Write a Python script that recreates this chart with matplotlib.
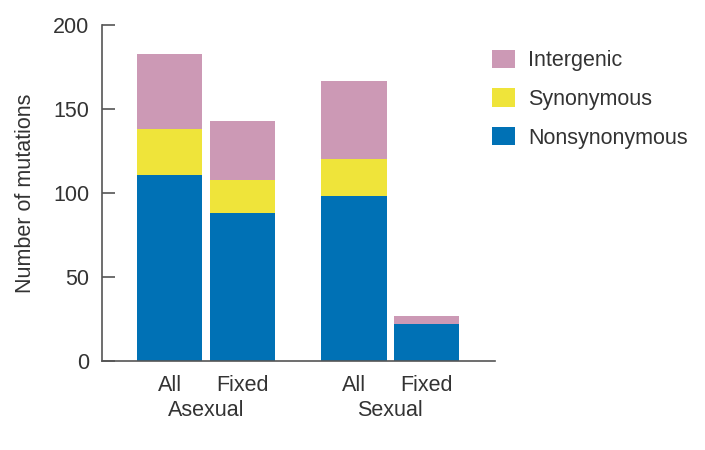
import matplotlib
matplotlib.use("Agg")
import matplotlib.pyplot as plt
import matplotlib.transforms as mtransforms

plt.rcParams['font.family'] = ['Liberation Sans', 'DejaVu Sans']

bar_labels = ["All", "Fixed", "All", "Fixed"]
groups = ["Asexual", "Sexual"]
nonsyn = [111, 88, 98, 22]
syn = [27, 20, 22, 0]
intergenic = [45, 35, 47, 5]

col_pink = "#cc99b5"
col_yellow = "#efe43a"
col_blue = "#0071b5"
txt = "#333333"
fs = 15.5

x = [0, 1, 2.54, 3.54]

fig = plt.figure(figsize=(7.05, 4.5), dpi=100)
ax = fig.add_axes([0.144, 0.198, 0.558, 0.746])

b1 = ax.bar(x, nonsyn, width=0.9, color=col_blue, label="Nonsynonymous")
bottom2 = nonsyn
b2 = ax.bar(x, syn, width=0.9, bottom=bottom2, color=col_yellow, label="Synonymous")
bottom3 = [a + b for a, b in zip(nonsyn, syn)]
b3 = ax.bar(x, intergenic, width=0.9, bottom=bottom3, color=col_pink, label="Intergenic")

ax.set_ylim(0, 200)
ax.set_xlim(-0.94, 4.48)
ax.set_yticks([0, 50, 100, 150, 200])
ax.set_xticks(x)
ax.set_xticklabels(bar_labels)
ax.tick_params(axis='y', direction='in', length=9.5, width=1.2, color="#555555",
               labelsize=fs, labelcolor=txt, pad=9)
ax.tick_params(axis='x', length=0, labelsize=fs, labelcolor=txt, pad=10)

for s in ["top", "right"]:
    ax.spines[s].set_visible(False)
for s in ["left", "bottom"]:
    ax.spines[s].set_color("#555555")
    ax.spines[s].set_linewidth(1.2)

ax.set_ylabel("Number of mutations", fontsize=fs, color=txt, labelpad=12)

trans = mtransforms.blended_transform_factory(ax.transData, fig.transFigure)
ax.text((x[0] + x[1]) / 2, 1 - 411 / 450, groups[0], transform=trans,
        ha='center', va='center', fontsize=fs, color=txt)
ax.text((x[2] + x[3]) / 2, 1 - 411 / 450, groups[1], transform=trans,
        ha='center', va='center', fontsize=fs, color=txt)

fig.legend(handles=[b3, b2, b1], loc='upper left', bbox_to_anchor=(0.686, 0.909),
           borderaxespad=0, frameon=False, fontsize=fs, labelcolor=txt,
           handlelength=1.07, handleheight=0.93, labelspacing=0.8, handletextpad=0.6)

fig.savefig("out.png", dpi=100)
